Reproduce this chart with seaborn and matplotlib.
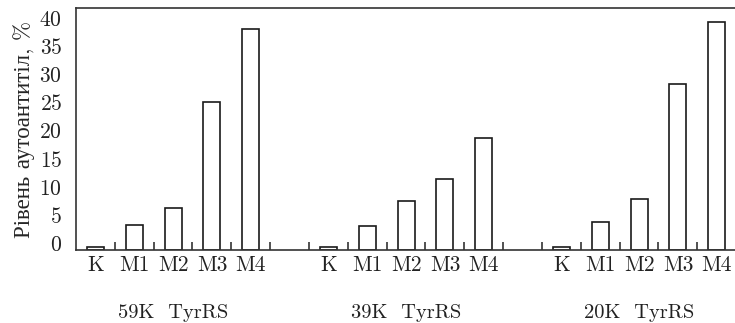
import pandas as pd
import seaborn as sns
import matplotlib.pyplot as plt
from matplotlib.ticker import FixedLocator

# data (percent)
groups = ['59K  TyrRS', '39K  TyrRS', '20K  TyrRS']
samples = ['K', 'M1', 'M2', 'M3', 'M4']
vals_59k = [-0.8, 3.2, 6.2, 25.0, 38.1]
vals_39k = [-0.8, 3.0, 7.4, 11.4, 18.7]
vals_20k = [-0.7, 3.8, 7.8, 28.3, 39.3]

sns.set_style('ticks')
plt.rcParams['font.family'] = ['cmr10', 'Liberation Serif']
plt.rcParams['axes.formatter.use_mathtext'] = True
plt.rcParams['text.color'] = '#222222'

rows = []
for g, (grp, vals) in enumerate(zip(groups, [vals_59k, vals_39k, vals_20k])):
    for i, (s, v) in enumerate(zip(samples, vals)):
        rows.append({'pos': g * 6 + i, 'sample': s, 'group': grp, 'value': v})
df = pd.DataFrame(rows)

fig = plt.figure(figsize=(7.35, 3.23), dpi=100)
ax = fig.add_axes([0.1034, 0.226, 0.8966, 0.749])

sns.barplot(data=df, x='pos', y='value', native_scale=True, width=0.44,
            color='white', edgecolor='#1a1a1a', linewidth=1.2, ax=ax)

# bars stand on the bottom of the frame, a little below the 0 tick
ybase = -1.25
for p, v in zip(ax.patches, df['value']):
    p.set_y(ybase)
    p.set_height(v - ybase)

ax.set_xlim(-0.5, 16.47)
ax.set_ylim(ybase, 41.8)

fs = 15.5
ax.set_xticks(df['pos'])
ax.set_xticklabels(df['sample'], fontsize=fs)
ax.xaxis.set_minor_locator(FixedLocator([x + 0.5 for x in range(16)]))
ax.tick_params(axis='x', which='major', length=0, pad=4, colors='#222222')
ax.tick_params(axis='x', which='minor', direction='in', length=6, width=1.1, color='#222222')
ax.set_yticks(range(0, 41, 5))
ax.tick_params(axis='y', length=0, pad=10, labelsize=fs, colors='#222222')

ax.set_xlabel('')
ax.set_ylabel('Рівень аутоантитіл, %', fontsize=16.5, labelpad=3)

for g, grp in enumerate(groups):
    ax.text(g * 6 + 2, -0.26, grp, transform=ax.get_xaxis_transform(),
            ha='center', va='center', fontsize=14.8)

for side in ['left', 'top', 'bottom']:
    ax.spines[side].set_color('#333333')
    ax.spines[side].set_linewidth(1.2)
ax.spines['right'].set_visible(False)

fig.savefig('out.png', dpi=100)
